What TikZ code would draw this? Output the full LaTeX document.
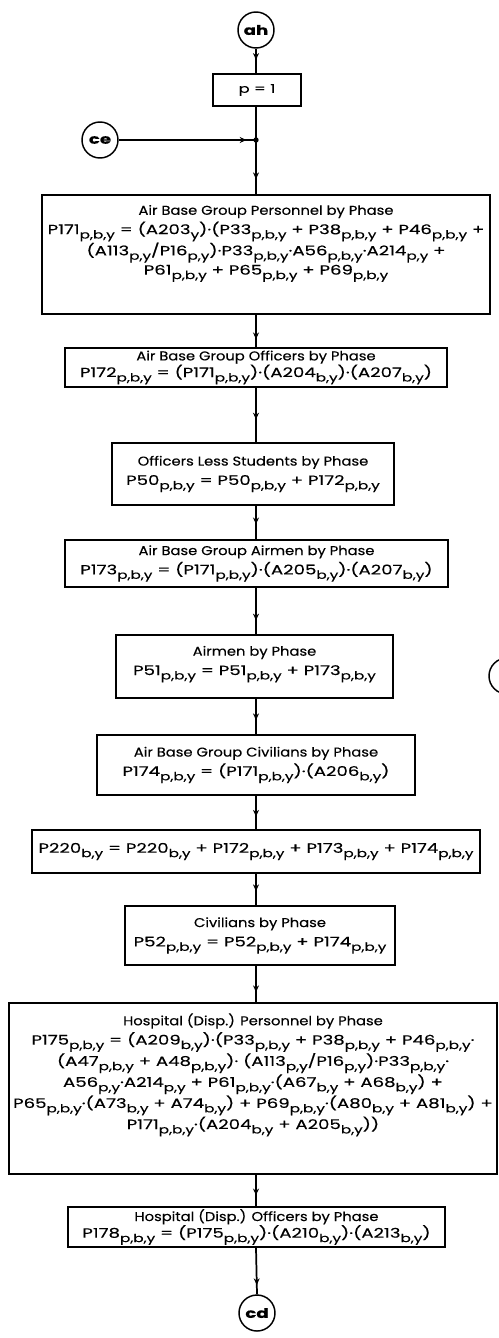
\documentclass[tikz,border=0pt]{standalone}
\usepackage{fontspec}
\setmainfont{Poppins}[FakeStretch=1.36,FakeBold=0.3]
\newfontfamily\ttlfont{Poppins}[FakeStretch=1.15,FakeBold=0.3]
\usetikzlibrary{decorations.markings,arrows.meta}
\newcommand{\pxu}{0.75pt}
% lowered subscript in the running font
\newcommand{\ix}[1]{\raisebox{-0.6ex}{\fontsize{8.4}{8.4}\selectfont #1}}
\newcommand{\pby}{\ix{p,b,y}}
\newcommand{\by}{\ix{b,y}}
\newcommand{\py}{\ix{p,y}}
% box headings use a narrower cut than the formulas
\newcommand{\ttl}[1]{{\ttlfont\fontsize{9.6}{9.6}\selectfont #1}}
\begin{document}
\begin{tikzpicture}[x=0.75pt,y=-0.75pt,
  box/.style={draw, line width=1.1pt, inner sep=0pt, align=center,
    font=\fontsize{10}{14.5}\selectfont},
  tight/.style={font=\fontsize{10}{12.5}\selectfont},
  conn/.style={draw, circle, line width=1.1pt, inner sep=0pt,
    minimum size=36*\pxu, font=\bfseries\fontsize{10}{10}\selectfont},
  flow/.style={line width=1.3pt, postaction={decorate},
    decoration={markings, mark=at position #1 with
      {\arrow{Stealth[length=5pt,width=4.5pt]}}}},
  plain/.style={line width=1.3pt}]
\useasboundingbox (0,0) rectangle (499,1338);
\clip (0,0) rectangle (499,1338);
\coordinate (axis) at (256,0);

% connector circles
\node[conn] (ah) at (256,30) {ah};
\node[conn] (ce) at (100,140) {ce};
\node[conn] (cd) at (257,1313) {cd};
\node[conn] (cx) at (507,676) {};

% process boxes
\node[box, minimum width=88*\pxu, minimum height=32*\pxu,
  font=\fontsize{9}{9}\selectfont] (p1) at (257,90) {p = 1};
\coordinate (jn) at (256,140);

\node[box, text depth=22pt, minimum width=448*\pxu, minimum height=119*\pxu] (b1) at (266,254.5)
  {\ttl{Air Base Group Personnel by Phase}\\
   P171\pby{} = (A203\ix{y})·(P33\pby{} + P38\pby{} + P46\pby{} +\\
   (A113\py/P16\py)·P33\pby·A56\pby·A214\py{} +\\
   P61\pby{} + P65\pby{} + P69\pby};

\node[box, tight, minimum width=382*\pxu, minimum height=39*\pxu] (b2) at (256,367.5)
  {\ttl{Air Base Group Officers by Phase}\\
   P172\pby{} = (P171\pby)·(A204\by)·(A207\by)};

\node[box, minimum width=282*\pxu, minimum height=62*\pxu] (b3) at (253,474)
  {\ttl{Officers Less Students by Phase}\\
   P50\pby{} = P50\pby{} + P172\pby};

\node[box, minimum width=383*\pxu, minimum height=47*\pxu] (b4) at (256.5,563.5)
  {\ttl{Air Base Group Airmen by Phase}\\
   P173\pby{} = (P171\pby)·(A205\by)·(A207\by)};

\node[box, text depth=9pt, minimum width=277*\pxu, minimum height=63*\pxu] (b5) at (254.5,666.5)
  {\ttl{Airmen by Phase}\\
   P51\pby{} = P51\pby{} + P173\pby};

\node[box, minimum width=318*\pxu, minimum height=60*\pxu] (b6) at (256,765)
  {\ttl{Air Base Group Civilians by Phase}\\
   P174\pby{} = (P171\pby)·(A206\by)};

\node[box, minimum width=448*\pxu, minimum height=43*\pxu] (b7) at (256,851.5)
  {P220\by{} = P220\by{} + P172\pby{} + P173\pby{} + P174\pby};

\node[box, minimum width=270*\pxu, minimum height=59*\pxu] (b8) at (260,935.5)
  {\ttl{Civilians by Phase}\\
   P52\pby{} = P52\pby{} + P174\pby};

\node[box, text depth=26pt, minimum width=488*\pxu, minimum height=171*\pxu] (b9) at (253,1088.5)
  {\ttl{Hospital (Disp.) Personnel by Phase}\\
   P175\pby{} = (A209\by)·(P33\pby{} + P38\pby{} + P46\pby·\\
   (A47\pby{} + A48\pby)· (A113\py/P16\py)·P33\pby·\\
   A56\py·A214\py{} + P61\pby·(A67\by{} + A68\by) +\\
   P65\pby·(A73\by{} + A74\by) + P69\pby·(A80\by{} + A81\by) +\\
   P171\pby·(A204\by{} + A205\by))};

\node[box, tight, minimum width=377*\pxu, minimum height=40*\pxu] (b10) at (256.5,1227)
  {\ttl{Hospital (Disp.) Officers by Phase}\\
   P178\pby{} = (P175\pby)·(A210\by)·(A213\by)};

% flow lines
\draw[flow=0.45] (ah.south) -- (p1.north -| axis);
\draw[plain] (p1.south -| axis) -- (jn);
\draw[flow=0.93] (ce.east) -- (jn);
\fill (jn) circle (2pt);
\draw[flow=0.72] (jn) -- (b1.north -| axis);
\draw[flow=0.75] (b1.south -| axis) -- (b2.north -| axis);
\draw[flow=0.58] (b2.south -| axis) -- (b3.north -| axis);
\draw[flow=0.55] (b3.south -| axis) -- (b4.north -| axis);
\draw[flow=0.7]  (b4.south -| axis) -- (b5.north -| axis);
\draw[flow=0.6]  (b5.south -| axis) -- (b6.north -| axis);
\draw[flow=0.62] (b6.south -| axis) -- (b7.north -| axis);
\draw[flow=0.55] (b7.south -| axis) -- (b8.north -| axis);
\draw[flow=0.72] (b8.south -| axis) -- (b9.north -| axis);
\draw[flow=0.65] (b9.south -| axis) -- (b10.north -| axis);
\draw[flow=0.8]  (b10.south -| axis) -- (cd.north);
\end{tikzpicture}
\end{document}
